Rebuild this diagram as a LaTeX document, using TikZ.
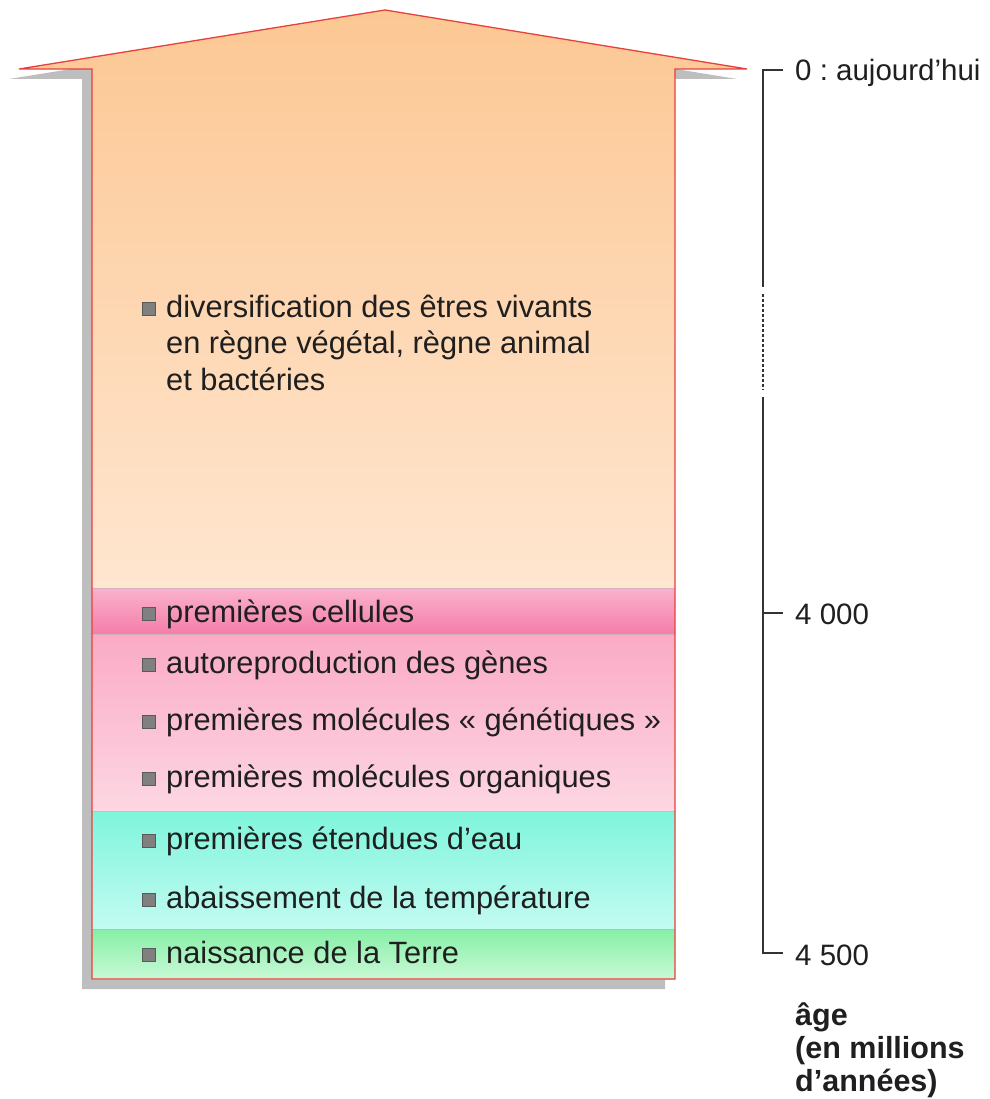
\documentclass[tikz,border=0pt]{standalone}
\usepackage{fontspec}
\setmainfont{Liberation Sans}
\frenchspacing
\definecolor{shadowgray}{HTML}{BEBEBE}
\definecolor{outl}{HTML}{E8403C}
\definecolor{orA}{HTML}{FCC793}
\definecolor{orB}{HTML}{FDD5B2}
\definecolor{orC}{HTML}{FFE6D0}
\definecolor{ceA}{HTML}{FAB2CB}
\definecolor{ceB}{HTML}{F47DAA}
\definecolor{pkA}{HTML}{FAAAC5}
\definecolor{pkB}{HTML}{FDD7E3}
\definecolor{cyA}{HTML}{7EF5DB}
\definecolor{cyB}{HTML}{C3FBF2}
\definecolor{grA}{HTML}{86EFA6}
\definecolor{grB}{HTML}{C8F9D6}
\begin{document}
\begin{tikzpicture}[x=1pt,y=-1pt,
  txt/.style={anchor=base west, inner sep=0pt, align=left, font=\fontsize{30.8}{36.5}\selectfont, text=black!88},
  lab/.style={anchor=base west, inner sep=0pt, font=\fontsize{29.5}{34}\selectfont, text=black!88},
  blab/.style={anchor=base west, inner sep=0pt, align=left, font=\fontsize{30.5}{33}\selectfont\bfseries, text=black!88},
  bul/.style={draw=black!65, fill=black!50, minimum size=13pt, inner sep=0pt, line width=0.8pt},
  sep/.style={draw=black!30, line width=0.8pt, opacity=0.5},
  axis/.style={draw=black!80, line width=1.8pt},
]
\useasboundingbox (0,0) rectangle (989,1099);
% shadow
\fill[shadowgray] (82,989) -- (82,79) -- (9,79) -- (375,20) -- (737,79) -- (665,79) -- (665,989) -- cycle;
% bands
\shade[top color=orA, middle color=orB, bottom color=orC] (92,588) -- (92,69) -- (19,69) -- (385,10) -- (747,69) -- (675,69) -- (675,588) -- cycle;
\shade[top color=ceA, bottom color=ceB] (92,588) rectangle (675,634);
\shade[top color=pkA, bottom color=pkB] (92,634) rectangle (675,811);
\shade[top color=cyA, bottom color=cyB] (92,811) rectangle (675,929);
\shade[top color=grA, bottom color=grB] (92,929) rectangle (675,979);
\draw[sep] (92,588) -- (675,588);
\draw[sep] (92,634) -- (675,634);
\draw[sep] (92,811) -- (675,811);
\draw[sep] (92,929) -- (675,929);
% outline
\draw[outl, line width=1.3pt, line join=miter] (92,979) -- (92,69) -- (19,69) -- (385,10) -- (747,69) -- (675,69) -- (675,979) -- cycle;
% events
\node[bul] (q1) at (148.5,309) {};
\node[txt] (e1) at (166,390) {diversification des êtres vivants\\en règne végétal, règne animal\\et bactéries};
\node[bul] (q2) at (148.5,614) {};
\node[txt] (e2) at (166,622) {premières cellules};
\node[bul] (q3) at (148.5,665) {};
\node[txt] (e3) at (166,673) {autoreproduction des gènes};
\node[bul] (q4) at (148.5,722) {};
\node[txt] (e4) at (166,730) {premières molécules « génétiques »};
\node[bul] (q5) at (148.5,779) {};
\node[txt] (e5) at (166,787) {premières molécules organiques};
\node[bul] (q6) at (148.5,841) {};
\node[txt] (e6) at (166,849) {premières étendues d’eau};
\node[bul] (q7) at (148.5,900) {};
\node[txt] (e7) at (166,908) {abaissement de la température};
\node[bul] (q8) at (148.5,955) {};
\node[txt] (e8) at (166,963) {naissance de la Terre};
% axis
\coordinate (a0) at (763,70);
\coordinate (t0) at (783,70);
\coordinate (g0) at (763,287);
\coordinate (d0) at (763,294);
\coordinate (d1) at (763,390);
\coordinate (g1) at (763,397);
\coordinate (a4) at (763,613);
\coordinate (t4) at (783,613);
\coordinate (a5) at (763,953);
\coordinate (t5) at (783,953);
\draw[axis, line join=miter] (t0) -- (a0) -- (g0);
\draw[axis, line width=1.6pt, dash pattern=on 3pt off 2pt] (d0) -- (d1);
\draw[axis, line join=miter] (g1) -- (a5) -- (t5);
\draw[axis] (a4) -- (t4);
\node[lab] (l0) at (795,81) {0 : aujourd’hui};
\node[lab] (l4) at (795,624) {4 000};
\node[lab] (l5) at (795,965) {4 500};
\node[blab] (age) at (795,1091) {âge\\(en millions\\d’années)};
\end{tikzpicture}
\end{document}
